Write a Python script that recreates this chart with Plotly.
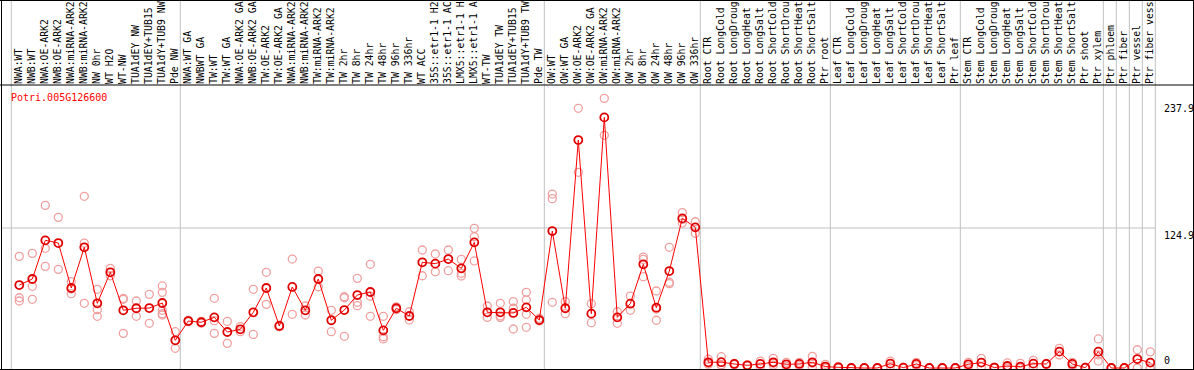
import plotly.graph_objects as go

categories = [
    "NWA:WT", "NWB:WT", "NWA:OE-ARK2", "NWB:OE-ARK2", "NWA:miRNA-ARK2", "NWB:miRNA-ARK2",
    "NW 0hr", "WT H2O", "WT-NW", "TUA1dEY NW", "TUA1dEY+TUB15", "TUA1dY+TUB9 NW", "Pde NW",
    "NWA:WT GA", "NWBWT GA", "TW:WT", "TW:WT GA", "NWA:OE-ARK2 GA", "NWB:OE-ARK2 GA",
    "TW:OE-ARK2", "TW:OE-ARK2 GA", "NWA:miRNA-ARK2 GA", "NWB:miRNA-ARK2 GA", "TW:miRNA-ARK2",
    "TW:miRNA-ARK2", "TW 2hr", "TW 8hr", "TW 24hr", "TW 48hr", "TW 96hr", "TW 336hr", "WT ACC",
    "35S::etr1-1 H2O", "35S::etr1-1 ACC", "LMX5::etr1-1 H2O", "LMX5::etr1-1 ACC", "WT-TW",
    "TUA1dEY TW", "TUA1dEY+TUB15", "TUA1dY+TUB9 TW", "Pde TW",
    "OW:WT", "OW:WT GA", "OW:OE-ARK2", "OW:OE-ARK2 GA", "OW:miRNA-ARK2", "OW:miRNA-ARK2",
    "OW 2hr", "OW 8hr", "OW 24hr", "OW 48hr", "OW 96hr", "OW 336hr",
    "Root CTR", "Root LongCold", "Root LongDrought", "Root LongHeat", "Root LongSalt",
    "Root ShortCold", "Root ShortDrought", "Root ShortHeat", "Root ShortSalt", "Ptr root",
    "Leaf CTR", "Leaf LongCold", "Leaf LongDrought", "Leaf LongHeat", "Leaf LongSalt",
    "Leaf ShortCold", "Leaf ShortDrought", "Leaf ShortHeat", "Leaf ShortSalt", "Ptr leaf",
    "Stem CTR", "Stem LongCold", "Stem LongDrought", "Stem LongHeat", "Stem LongSalt",
    "Stem ShortCold", "Stem ShortDrought", "Stem ShortHeat", "Stem ShortSalt", "Ptr shoot",
    "Ptr xylem", "Ptr phloem", "Ptr fiber", "Ptr vessel", "Ptr fiber vessel",
]

mean_values = [
    74.0, 79.4, 113.9, 111.5, 71.4, 107.7, 57.7, 85.4, 51.5, 53.3, 53.5, 58.0, 24.7,
    41.9, 40.8, 45.2, 32.1, 34.5, 49.7, 71.4, 37.5, 72.3, 51.5, 79.4, 42.6, 51.7, 65.1,
    67.8, 33.6, 53.3, 46.4, 94.3, 93.1, 97.2, 88.9, 112.1, 49.7, 49.7, 49.1, 54.1, 42.8,
    122.2, 53.3, 203.4, 48.5, 223.6, 45.2, 57.4, 92.5, 53.8, 86.5, 133.5, 125.5,
    5.1, 5.2, 3.6, 2.4, 3.6, 5.1, 3.3, 3.6, 5.1, 1.3,
    0.6, 0.0, 0.0, 0.0, 3.9, 0.3, 3.6, 0.0, 0.0, 0.0,
    3.3, 4.8, 0.4, 1.8, 1.2, 3.9, 3.6, 14.6, 3.6, 0.3,
    14.6, 0.0, 0.0, 8.0, 4.8,
]

replicate_values = [
    [99.6, 62.7, 59.8], [102.3, 72.9, 61.3], [145.1, 106.8, 90.7], [134.4, 88.0],
    [77.0, 70.5, 66.3], [153.2, 111.5, 57.7], [70.2, 52.0, 46.1], [88.9, 82.3],
    [62.0, 61.3, 30.9], [59.8, 46.1], [65.7, 39.9], [73.2, 67.5, 51.5, 48.5, 47.3],
    [32.4, 17.6],
    [42.6, 41.3], [40.0, 41.6], [62.2, 42.2, 30.9], [41.6, 22.0], [36.9, 32.4],
    [70.2, 30.0], [85.4, 56.8], [36.8, 38.2], [97.2, 47.9], [55.3, 47.3], [86.5, 72.5],
    [51.5, 32.4], [63.6, 62.7, 28.3], [80.0, 58.6, 55.6], [92.5, 64.0, 46.1],
    [46.1, 27.9, 25.9], [52.0, 54.6], [50.2, 42.8], [105.3, 82.3], [101.7, 85.9],
    [105.3, 86.8], [96.9, 84.5, 82.1], [124.6, 117.1, 95.5], [55.3, 45.2],
    [57.7, 46.5, 45.2], [59.2, 53.3, 34.8], [67.5, 60.7, 47.9, 36.3], [44.3, 41.9],
    [155.2, 151.1, 58.6], [59.2, 48.5], [231.7, 174.6], [57.4, 40.4], [240.6, 207.6],
    [50.2, 39.9], [64.2, 51.5], [99.0, 96.9, 81.5], [68.7, 52.6, 42.6],
    [107.7, 76.5, 75.3], [138.6, 132.6, 129.3], [130.5, 120.2],
    [7.8, 3.4, 4.1], [10.1, 3.0, 2.5], [3.0, 4.2], [2.0, 2.8], [6.2, 1.0],
    [8.6, 4.2, 2.5], [5.1, 1.5], [5.1, 2.1], [10.4, 4.2, 0.7], [3.3, 0.0],
    [1.4, 0.0], [0.0, 0.0], [0.0, 0.0], [0.0, 0.0], [6.2, 1.6], [0.6, 0.0],
    [5.1, 2.1], [0.0, 0.0], [0.0, 0.0], [0.0, 0.0],
    [5.1, 1.5], [8.6, 1.0], [0.8, 0.0], [4.5, 0.0], [4.2, 0.0, 0.0], [6.8, 1.0],
    [3.2, 4.0], [17.6, 11.6], [5.1, 2.1], [0.5, 0.0],
    [25.9, 11.7, 6.2], [0.0, 0.0], [0.0, 0.0], [16.3, 0.0], [14.4, 0.0, 0.0],
]

# index of the last sample before each vertical separator
group_last_index = [-1, 12, 40, 52, 62, 72, 83, 84, 85, 86, 87]

y_tick_values = [0, 124.9, 237.9]
y_tick_labels = ["0", "124.9", "237.9"]
gene_id = "Potri.005G126600"

# ---------------- layout geometry ----------------
W, H = 1194, 370
ML, MR, MT, MB = 1, 39, 85, 1
PW, PH = W - ML - MR, H - MT - MB
X_RANGE = [-1.408, 87.36]
Y_RANGE = [-0.89, 252.5]
SEP_OFFSET = 5 / 13.0


def px_x(px):
    return (px - ML) / PW


def px_y(py):
    return (H - MB - py) / PH


def data_x_to_paper(x):
    return (x - X_RANGE[0]) / (X_RANGE[1] - X_RANGE[0])


x_idx = list(range(len(categories)))
rep_x, rep_y = [], []
for i, reps in enumerate(replicate_values):
    for v in reps:
        rep_x.append(i)
        rep_y.append(v)

fig = go.Figure()
fig.add_trace(go.Scatter(
    x=rep_x, y=rep_y, mode="markers",
    marker=dict(symbol="circle-open", size=8, color="#f0a0a0", line=dict(width=1.3)),
    hoverinfo="skip", showlegend=False,
))
fig.add_trace(go.Scatter(
    x=x_idx, y=mean_values, mode="lines+markers",
    line=dict(color="#ff0000", width=1),
    marker=dict(symbol="circle-open", size=8, color="#e00000", line=dict(width=1.8)),
    showlegend=False,
))

shapes = []
gray = "#c0c0c0"
# vertical separators (through labels and plot)
for g in group_last_index:
    xp = data_x_to_paper(g + SEP_OFFSET)
    shapes.append(dict(type="line", xref="paper", yref="paper", x0=xp, x1=xp,
                       y0=px_y(H), y1=px_y(0), line=dict(color=gray, width=1), layer="below"))
# horizontal gridline
shapes.append(dict(type="line", xref="paper", yref="y", x0=0, x1=1,
                   y0=y_tick_values[1], y1=y_tick_values[1],
                   line=dict(color=gray, width=1), layer="below"))
# black frame and divider
black = dict(color="#000000", width=1)
shapes.append(dict(type="line", xref="paper", yref="paper", x0=px_x(0), x1=px_x(W),
                   y0=px_y(0.5), y1=px_y(0.5), line=black))
shapes.append(dict(type="line", xref="paper", yref="paper", x0=px_x(0), x1=px_x(W),
                   y0=px_y(85), y1=px_y(85), line=black))
shapes.append(dict(type="line", xref="paper", yref="paper", x0=px_x(0), x1=px_x(W),
                   y0=px_y(369.5), y1=px_y(369.5), line=black))
shapes.append(dict(type="line", xref="paper", yref="paper", x0=px_x(1.5), x1=px_x(1.5),
                   y0=px_y(0), y1=px_y(H), line=black))
shapes.append(dict(type="line", xref="paper", yref="paper", x0=px_x(1193.5), x1=px_x(1193.5),
                   y0=px_y(0), y1=px_y(H), line=black))

annotations = []
for v, t in zip(y_tick_values, y_tick_labels):
    annotations.append(dict(
        xref="paper", yref="y", x=px_x(1162), y=v, text=t, showarrow=False,
        xanchor="left", yanchor="bottom" if v == 0 else "top",
        font=dict(family="DejaVu Sans Mono", size=10, color="#000000"),
    ))
annotations.append(dict(
    xref="paper", yref="paper", x=px_x(8.5), y=px_y(97), text=gene_id, showarrow=False,
    xanchor="left", yanchor="middle",
    font=dict(family="DejaVu Sans Mono", size=10, color="#ff0000"),
))

fig.update_layout(
    width=W, height=H,
    margin=dict(l=ML, r=MR, t=MT, b=MB, pad=0),
    paper_bgcolor="#ffffff", plot_bgcolor="#ffffff",
    shapes=shapes, annotations=annotations,
    xaxis=dict(
        range=X_RANGE, side="top", tickmode="array", tickvals=x_idx, ticktext=categories,
        tickangle=-90, showgrid=False, zeroline=False, showline=False, ticks="",
        tickfont=dict(family="DejaVu Sans Mono", size=9.8, color="#000000"),
        automargin=False, fixedrange=True,
    ),
    yaxis=dict(
        range=Y_RANGE, showgrid=False, zeroline=False, showline=False,
        showticklabels=False, ticks="", automargin=False, fixedrange=True,
    ),
)

fig.write_html(
    "out.html",
    config={"displayModeBar": False},
    post_script="document.body.style.margin='0';document.body.style.overflow='hidden';",
)
